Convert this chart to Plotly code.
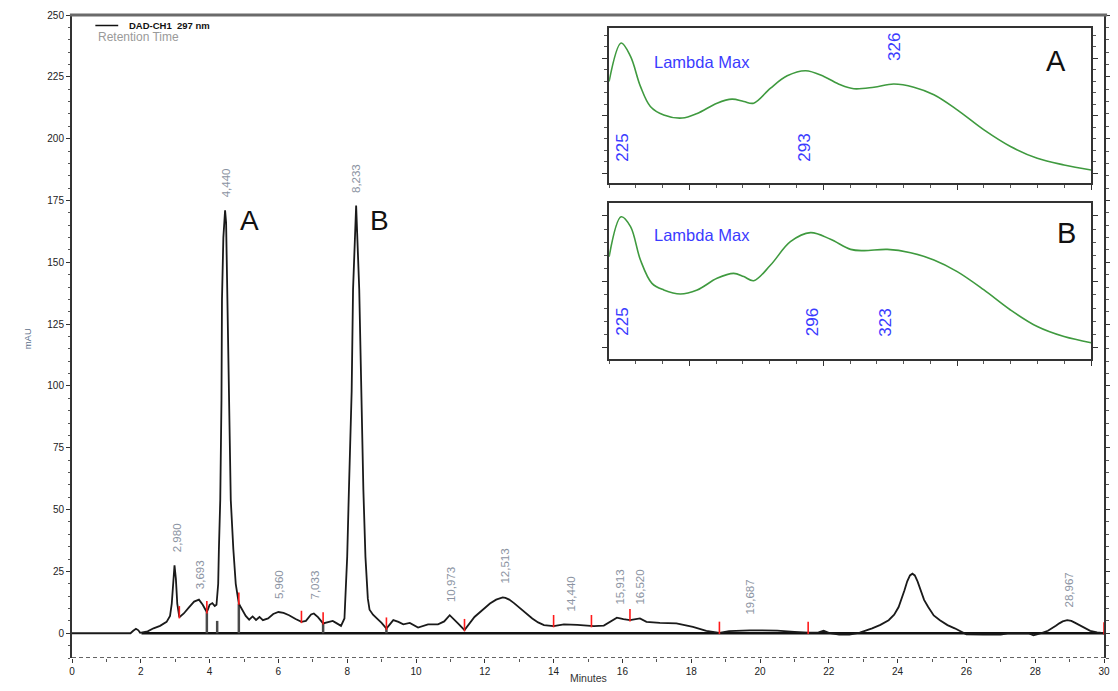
import plotly.graph_objects as go

# ---------------- main chromatogram (DAD-CH1 297 nm) ----------------
T = [0, 1.7, 1.78, 1.86, 1.93, 1.98, 2.05, 2.2, 2.37, 2.56, 2.75, 2.85, 2.9, 2.94, 2.98, 3.02, 3.06, 3.12,
     3.25, 3.4, 3.55, 3.69, 3.8, 3.92, 4.0, 4.08, 4.15, 4.2, 4.25, 4.27, 4.31, 4.345, 4.36, 4.40, 4.45,
     4.48, 4.52, 4.57, 4.615, 4.69, 4.76, 4.85, 4.95, 5.05, 5.15, 5.25, 5.35, 5.45, 5.55, 5.7, 5.85, 6.0,
     6.15, 6.31, 6.5, 6.67, 6.8, 6.95, 7.03, 7.15, 7.3, 7.45, 7.58, 7.7, 7.82, 7.92, 7.97, 8.0, 8.05, 8.13,
     8.17, 8.26, 8.35, 8.40, 8.47, 8.53, 8.6, 8.65, 8.75, 8.9, 9.0, 9.14, 9.34, 9.49, 9.63, 9.82, 10.06,
     10.35, 10.64, 10.82, 10.98, 11.22, 11.41, 11.7, 11.85, 11.99, 12.15, 12.33, 12.45, 12.52, 12.6, 12.71,
     12.85, 13.04, 13.2, 13.38, 13.55, 13.72,
     14.0, 14.3, 14.69, 15.17, 15.46, 15.65, 15.84, 16.03, 16.22, 16.51, 16.7, 17.09, 17.57, 18.05,
     18.44, 18.82, 19.1, 19.7, 20.5, 21.0, 21.4, 21.7, 21.85, 22.0, 22.3, 22.6, 22.9, 23.26, 23.5, 23.74,
     23.9, 24.03, 24.12, 24.2, 24.28, 24.36, 24.43, 24.5, 24.58, 24.67, 24.77, 24.89, 25.05, 25.23, 25.45,
     25.66, 25.85, 26.0, 26.5, 27.0, 27.2, 27.8, 27.95, 28.1, 28.37, 28.5, 28.6, 28.7, 28.8, 28.93, 29.05,
     29.15, 29.3, 29.45, 29.6, 29.8, 30.0]
V = [0, 0, 1.0, 1.8, 1.2, 0.2, 0.4, 0.8, 2.0, 3.0, 4.6, 7.0, 12, 22, 27.5, 22, 12, 6.5,
     8.0, 10.5, 12.8, 13.6, 11.5, 8.5, 11.5, 12.2, 11.0, 11.5, 20, 34, 54, 94, 135, 160, 171,
     166, 135, 94, 54, 34, 20, 12, 9.5, 7.0, 5.5, 6.8, 5.4, 6.6, 5.3, 6.0, 7.8, 8.6,
     8.2, 7.3, 5.8, 4.6, 5.0, 7.6, 8.0, 6.5, 4.0, 4.4, 5.0, 4.0, 3.0, 6.0, 20, 31, 58, 98,
     139, 173, 139, 98, 58, 31, 14, 9.5, 7.5, 5.5, 4.2, 1.9, 5.3, 4.6, 3.6, 4.2, 2.3,
     3.6, 3.6, 4.8, 7.3, 4.0, 1.3, 6.6, 8.5, 10.0, 12.0, 13.6, 14.3, 14.5, 14.3, 13.6,
     12.2, 10.0, 8.0, 6.0, 4.4, 3.3,
     2.9, 3.6, 3.4, 2.9, 3.1, 4.6, 6.3, 5.7, 5.3, 6.0, 4.6, 4.2, 4.0, 2.6,
     1.0, 0.2, 0.9, 1.2, 1.1, 0.6, 0.2, 0.4, 1.0, 0.2, -0.5, -0.5, 0.3, 2.0, 3.4, 5.3,
     7.5, 10.6, 14.0, 17.4, 21.0, 23.4, 24.1, 23.4, 21.0, 17.4, 13.5, 10.6, 7.2, 5.3, 3.3,
     2.0, 0.6, -0.4, -0.5, -0.5, 0.0, 0.0, -0.8, -0.3, 1.0, 2.0, 3.0, 4.0, 4.8, 5.3, 5.0,
     4.3, 3.2, 2.0, 1.0, 0.4, 0.0]

BASELINE_T = [2.02, 30.0]
BASELINE_V = [0.0, 0.0]

# integration drop lines and red event marks
DROP_T = [3.92, 4.22, 4.85, 7.3, 9.14]
DROP_V = [8.5, 5.0, 12.0, 4.0, 1.9]
RED_T = [3.12, 3.92, 4.85, 6.67, 7.3, 9.14, 11.41, 14.0, 15.1, 16.22, 18.82, 21.4, 30.0]
RED_V = [6.5, 8.5, 12.0, 4.6, 4.0, 1.9, 1.3, 2.9, 2.9, 5.3, 0.2, 0.2, 0.0]

# retention-time labels
PEAK_LABELS = ["2,980", "3,693", "4,440", "5,960", "7,033", "8,233", "10,973", "12,513",
               "14,440", "15,913", "16,520", "19,687", "28,967"]
PEAK_LX = [3.05, 3.72, 4.48, 6.04, 7.07, 8.25, 11.04, 12.56, 14.5, 15.94, 16.52, 19.72, 28.99]
PEAK_LY = [38.8, 23.9, 182, 19.8, 19.4, 184, 19.8, 27.0, 16.0, 18.6, 18.6, 14.6, 17.4]

# ---------------- UV spectra insets ----------------
WL_A = [220, 224.5, 228, 231.7, 235.4, 240.4, 247.3, 252.9, 260.3, 265.9, 270.3, 274, 280.3, 286.5,
        293.4, 300.2, 306.4, 311.4, 318.9, 326.3, 333.8, 341.3, 350, 360, 369.9, 379.9, 389.9, 400]
AB_A = [65.6, 90.3, 81.7, 62.4, 49.5, 44, 42, 45, 51.6, 54.2, 52.7, 51.6, 61.3, 69.2,
        72.5, 68.8, 63.4, 60.9, 61.9, 63.9, 61.9, 57, 47.3, 34.4, 23.7, 16.1, 11.8, 8.6]
WL_B = [220, 224.5, 228, 231.7, 236, 240.4, 246.6, 252.9, 260.3, 266.5, 270.3, 274, 280.3, 287.7,
        295.2, 302.7, 310.2, 315.1, 323.9, 332.6, 341.3, 350, 360, 369.9, 379.9, 389.9, 400]
AB_B = [65.5, 91, 84.7, 63.4, 48.5, 44.3, 41.7, 44.3, 51.7, 54.9, 52.8, 50.2, 60.2, 75.1,
        80.9, 76.6, 70.2, 69.4, 70.2, 68.1, 63.4, 56, 44.3, 31.5, 20.9, 14.5, 10.6]
LMAX_A = ["225", "293", "326"]
LMAX_A_X = [225, 293, 326.5]
LMAX_A_Y = [22.6, 22.6, 88]
LMAX_B = ["225", "296", "323"]
LMAX_B_X = [225, 295.8, 323.2]
LMAX_B_Y = [23.7, 23.7, 23.7]

FONT = "Liberation Sans, Arial, sans-serif"
fig = go.Figure()

fig.add_trace(go.Scatter(x=BASELINE_T, y=BASELINE_V, mode="lines",
                         line=dict(color="#111111", width=2.6), hoverinfo="skip"))
dx, dy = [], []
for t, v in zip(DROP_T, DROP_V):
    dx += [t, t, None]
    dy += [0, v, None]
fig.add_trace(go.Scatter(x=dx, y=dy, mode="lines", line=dict(color="#4a4a4a", width=2.5),
                         hoverinfo="skip"))
fig.add_trace(go.Scatter(x=T, y=V, mode="lines", line=dict(color="#1a1a1a", width=1.8),
                         hoverinfo="skip"))
rx, ry = [], []
for t, v in zip(RED_T, RED_V):
    rx += [t, t, None]
    ry += [v - 0.5, v + 4.5, None]
fig.add_trace(go.Scatter(x=rx, y=ry, mode="lines", line=dict(color="#ff1a1a", width=1.6),
                         hoverinfo="skip"))

fig.add_trace(go.Scatter(x=WL_A, y=AB_A, mode="lines", line=dict(color="#3f9a3f", width=1.6, shape="spline"),
                         xaxis="x2", yaxis="y2", hoverinfo="skip"))
fig.add_trace(go.Scatter(x=WL_B, y=AB_B, mode="lines", line=dict(color="#3f9a3f", width=1.6, shape="spline"),
                         xaxis="x3", yaxis="y3", hoverinfo="skip"))

ann = []
for lab, x, y in zip(PEAK_LABELS, PEAK_LX, PEAK_LY):
    ann.append(dict(x=x, y=y, xref="x", yref="y", text=lab, showarrow=False, textangle=-90,
                    font=dict(family=FONT, size=11.5, color="#8b93a2")))
ann.append(dict(x=5.17, y=167, xref="x", yref="y", text="A", showarrow=False,
                font=dict(family=FONT, size=28, color="#111")))
ann.append(dict(x=8.93, y=167, xref="x", yref="y", text="B", showarrow=False,
                font=dict(family=FONT, size=28, color="#111")))

for ax, labs, xs, ys, letter, lx, ly, lmy in [
        ("2", LMAX_A, LMAX_A_X, LMAX_A_Y, "A", 387, 78.5, 78.3),
        ("3", LMAX_B, LMAX_B_X, LMAX_B_Y, "B", 391, 80.4, 79.4)]:
    for lab, x, y in zip(labs, xs, ys):
        ann.append(dict(x=x, y=y, xref="x" + ax, yref="y" + ax, text=lab, showarrow=False,
                        textangle=-90, font=dict(family=FONT, size=17, color="#3b3bff")))
    ann.append(dict(x=254.7, y=lmy, xref="x" + ax, yref="y" + ax, text="Lambda Max", showarrow=False,
                    font=dict(family=FONT, size=16.5, color="#3b3bff")))
    ann.append(dict(x=lx, y=ly, xref="x" + ax, yref="y" + ax, text=letter, showarrow=False,
                    font=dict(family=FONT, size=29, color="#111")))

# legend & axis titles
ann.append(dict(x=127, y=25.5, xref="paper", yref="paper", text="<b>DAD-CH1  297 nm</b>", showarrow=False,
                xanchor="left", yanchor="middle", font=dict(family=FONT, size=9.5, color="#111")))
ann.append(dict(x=96, y=37, xref="paper", yref="paper", text="Retention Time", showarrow=False,
                xanchor="left", yanchor="middle", font=dict(family=FONT, size=12, color="#9a9a9a")))
ann.append(dict(x=19, y=339, xref="paper", yref="paper", text="mAU", showarrow=False, textangle=-90,
                font=dict(family=FONT, size=9.5, color="#5d6f8a")))
ann.append(dict(x=591, y=686, xref="paper", yref="paper", text="Minutes", showarrow=False,
                font=dict(family=FONT, size=10.5, color="#333")))

# convert pixel positions of paper annotations
L, R, TOP, BOT = 71.5, 8, 15, 33
PW, PH = 1118 - L - R, 691 - TOP - BOT
for a in ann:
    if a["xref"] == "paper":
        a["x"] = (a["x"] - L) / PW
        a["y"] = (691 - BOT - a["y"]) / PH

shapes = [
    dict(type="line", xref="paper", yref="paper", x0=-0.002, x1=1.003, y0=1, y1=1,
         line=dict(color="#6a6a6a", width=3)),
    dict(type="line", xref="paper", yref="y", x0=0, x1=1, y0=-10, y1=-10,
         line=dict(color="#333", width=1.5, dash="4px,3px")),
    dict(type="line", xref="paper", yref="paper", x0=(95 - L) / PW, x1=(118 - L) / PW,
         y0=(691 - BOT - 25.5) / PH, y1=(691 - BOT - 25.5) / PH, line=dict(color="#111", width=1.5)),
]

inset_x = dict(range=[220, 400], showticklabels=False, showgrid=False, zeroline=False,
               showline=True, linecolor="#333", linewidth=1.5, mirror=True,
               ticks="outside", ticklen=5, tickcolor="#333", tick0=250, dtick=50,
               minor=dict(ticks="outside", ticklen=3, tick0=220, dtick=10, tickcolor="#555"))

def inset_y(t0, dt):
    return dict(range=[0, 100], showticklabels=False, showgrid=False, zeroline=False,
                showline=True, linecolor="#333", linewidth=1.5, mirror="ticks",
                ticks="outside", ticklen=5, tickcolor="#333", tick0=t0, dtick=dt,
                minor=dict(ticks="outside", ticklen=3, tick0=t0, dtick=dt / 5, tickcolor="#555"))

def dom_x(p0, p1):
    return [(p0 - L) / PW, (p1 - L) / PW]

def dom_y(ptop, pbot):
    return [(691 - BOT - pbot) / PH, (691 - BOT - ptop) / PH]

fig.update_layout(
    width=1118, height=691,
    margin=dict(l=L, r=R, t=TOP, b=BOT),
    paper_bgcolor="white", plot_bgcolor="white",
    showlegend=False,
    font=dict(family=FONT),
    xaxis=dict(range=[0, 30], tick0=0, dtick=2, showgrid=False, zeroline=False, showline=False,
               ticks="outside", ticklen=4, tickwidth=1.3, tickcolor="#333",
               minor=dict(ticks="outside", ticklen=2.5, dtick=1, tickcolor="#555"),
               tickfont=dict(family=FONT, size=10, color="#222")),
    yaxis=dict(range=[-10, 250], tick0=0, dtick=25, showgrid=False, zeroline=False,
               showline=True, linecolor="#333", linewidth=2, mirror="ticks",
               ticks="outside", ticklen=4, tickwidth=1.3, tickcolor="#333",
               minor=dict(ticks="outside", ticklen=2.5, dtick=5, tick0=0, tickcolor="#555"),
               tickfont=dict(family=FONT, size=10, color="#222")),
    xaxis2=dict(inset_x, domain=dom_x(612, 1097), anchor="y2"),
    yaxis2=dict(inset_y(6.45, 37.1), domain=dom_y(28, 183.3), anchor="x2"),
    xaxis3=dict(inset_x, domain=dom_x(612, 1097), anchor="y3"),
    yaxis3=dict(inset_y(7.4, 42.1), domain=dom_y(202.7, 359.3), anchor="x3"),
    annotations=ann,
    shapes=shapes,
)

fig.write_html("out.html")
